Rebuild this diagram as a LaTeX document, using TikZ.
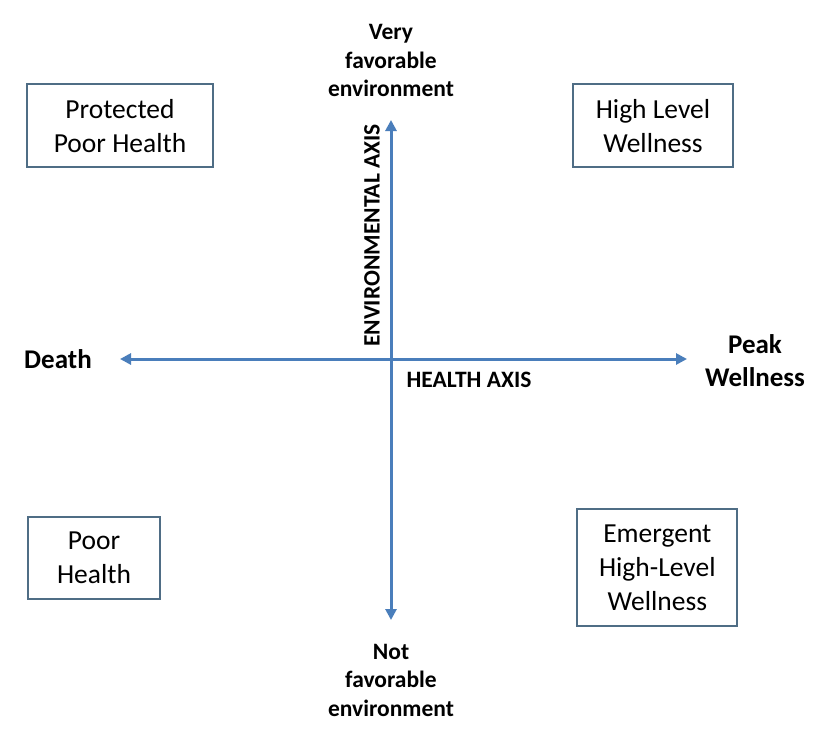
\documentclass[tikz,border=0pt]{standalone}
\usepackage{fontspec}
\setmainfont{Carlito}
\usetikzlibrary{arrows.meta}
\definecolor{axisblue}{HTML}{4A7EBB}
\definecolor{boxline}{HTML}{4F6D85}
\tikzset{
  quad/.style={draw=boxline, line width=2pt, align=center, inner sep=0pt,
    font=\fontsize{27.5}{34}\selectfont},
  lbl/.style={align=center, inner sep=0pt, font=\bfseries\fontsize{23.5}{28.5}\selectfont},
  endlbl/.style={align=center, inner sep=0pt, font=\bfseries\fontsize{27}{33}\selectfont},
  axisline/.style={draw=axisblue, line width=3pt,
    {Triangle[length=11pt,width=11pt]}-{Triangle[length=11pt,width=11pt]}}
}
\begin{document}
\begin{tikzpicture}[x=1pt,y=-1pt]
\useasboundingbox (0,0) rectangle (817,734);
\fill[white] (0,0) rectangle (817,734);
% boxes
\node[quad, minimum width=186pt, minimum height=83pt] (pph) at (120,125.7) {Protected\\Poor Health};
\node[quad, minimum width=160pt, minimum height=83pt] (hlw) at (653,125.7) {High Level\\Wellness};
\node[quad, minimum width=132pt, minimum height=82pt] (ph) at (94,558) {Poor\\Health};
\node[quad, minimum width=160pt, minimum height=116.7pt] (ehw) at (657.3,567.7) {Emergent\\High-Level\\Wellness};
% axes
\coordinate (L) at (120,359);
\coordinate (R) at (687,359);
\coordinate (T) at (391,120);
\coordinate (B) at (391,620);
\draw[axisline] (L) -- (R);
\draw[axisline] (B) -- (T);
% labels
\node[lbl] (top) at (391,60.5) {Very\\favorable\\environment};
\node[lbl] (bot) at (391,680) {Not\\favorable\\environment};
\node[endlbl] (death) at (58,359) {Death};
\node[endlbl] (peak) at (755,361) {Peak\\Wellness};
\node[lbl] (hax) at (469,380) {HEALTH AXIS};
\node[lbl, rotate=90] (eax) at (372,235.5) {ENVIRONMENTAL AXIS};
\end{tikzpicture}
\end{document}
